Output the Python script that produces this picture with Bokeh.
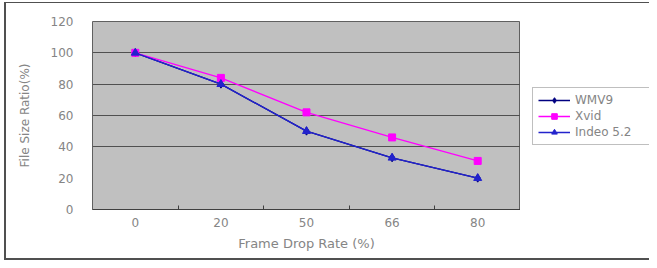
from bokeh.plotting import figure
from bokeh.models import FixedTicker, Range1d, Legend, LegendItem
from bokeh.layouts import row
from bokeh.embed import file_html
from bokeh.resources import INLINE

categories = ["0", "20", "50", "66", "80"]
wmv9 = [100, 80, 50, 33, 20]
xvid = [100, 84, 62, 46, 31]
indeo = [100, 80, 50, 33, 20]
y_ticks = [0, 20, 40, 60, 80, 100, 120]
grid_values = [40, 60, 80, 100]

xs = list(range(len(categories)))
boundaries = [i + 0.5 for i in xs[:-1]]

FONT = "DejaVu Sans"
TXT = "#858585"

p = figure(width=520, height=260, output_backend="svg", toolbar_location=None,
           x_range=Range1d(-0.5, len(categories) - 0.5), y_range=Range1d(0, 120),
           min_border_left=92, min_border_right=0, min_border_top=21, min_border_bottom=51)
p.background_fill_color = "#C0C0C0"
p.border_fill_alpha = 0
p.outline_line_color = "#606060"
p.outline_line_width = 1

xa = p.xaxis[0]
xa.ticker = FixedTicker(ticks=xs, minor_ticks=boundaries)
xa.major_label_overrides = {i: c for i, c in zip(xs, categories)}
xa.major_tick_line_color = None
xa.major_tick_in = 0
xa.major_tick_out = 0
xa.minor_tick_in = 4
xa.minor_tick_out = 0
xa.minor_tick_line_color = "#404040"
xa.axis_line_color = "#404040"
xa.major_label_standoff = 8
xa.axis_label = "Frame Drop Rate (%)"
xa.axis_label_standoff = 6

ya = p.yaxis[0]
ya.ticker = FixedTicker(ticks=y_ticks)
ya.major_tick_line_color = None
ya.major_tick_in = 0
ya.major_tick_out = 0
ya.minor_tick_line_color = None
ya.axis_line_color = None
ya.major_label_standoff = 19
ya.axis_label = "File Size Ratio(%)"
ya.axis_label_standoff = 16

for ax in (xa, ya):
    ax.major_label_text_font = FONT
    ax.major_label_text_font_size = "12px"
    ax.major_label_text_color = TXT
    ax.axis_label_text_font = FONT
    ax.axis_label_text_font_size = "12px"
    ax.axis_label_text_color = TXT
    ax.axis_label_text_font_style = "normal"
xa.axis_label_text_font_size = "13px"

p.xgrid.visible = False
p.ygrid.ticker = FixedTicker(ticks=grid_values)
p.ygrid.grid_line_color = "#505050"
p.ygrid.grid_line_width = 1

# side figure that only carries the legend
p2 = figure(width=129, height=260, output_backend="svg", toolbar_location=None,
            x_range=Range1d(0, 1), y_range=Range1d(0, 1),
            min_border_left=0, min_border_right=0, min_border_top=0, min_border_bottom=0)
p2.axis.visible = False
p2.grid.visible = False
p2.outline_line_color = None
p2.background_fill_alpha = 0
p2.border_fill_alpha = 0

series = [
    ("WMV9", wmv9, "#000080", "diamond", 8),
    ("Xvid", xvid, "#FF00FF", "square", 7),
    ("Indeo 5.2", indeo, "#2323CC", "triangle", 8),
]
items = []
for name, vals, col, mk, sz in series:
    p.line(xs, vals, line_color=col, line_width=1.3)
    p.scatter(xs, vals, marker=mk, size=sz, fill_color=col, line_color=col)
    # same series in the legend panel (outside its visible range)
    r1 = p2.line(xs, vals, line_color=col, line_width=1.3)
    r2 = p2.scatter(xs, vals, marker=mk, size=sz, fill_color=col, line_color=col)
    items.append(LegendItem(label=name, renderers=[r1, r2]))

lg = Legend(items=items, location=(12, 64))
lg.padding = 5
lg.spacing = 2
lg.label_height = 14
lg.glyph_height = 14
lg.glyph_width = 32
lg.label_standoff = 5
lg.label_width = 100
lg.label_text_font = FONT
lg.label_text_font_size = "12px"
lg.label_text_color = TXT
lg.border_line_color = "#808080"
lg.border_line_width = 1
lg.background_fill_color = "white"
lg.background_fill_alpha = 1
lg.margin = 0
p2.add_layout(lg)

layout = row(p, p2, spacing=0, styles={
    "background-color": "white",
    "box-shadow": "inset 0 2px 0 0 white, inset 4px 0 0 0 white, "
                  "inset 0 3px 0 0 #505050, inset 6px 0 0 0 #505050, "
                  "inset 0 -2px 0 0 #505050",
})

open("out.html", "w").write(file_html(layout, INLINE))
